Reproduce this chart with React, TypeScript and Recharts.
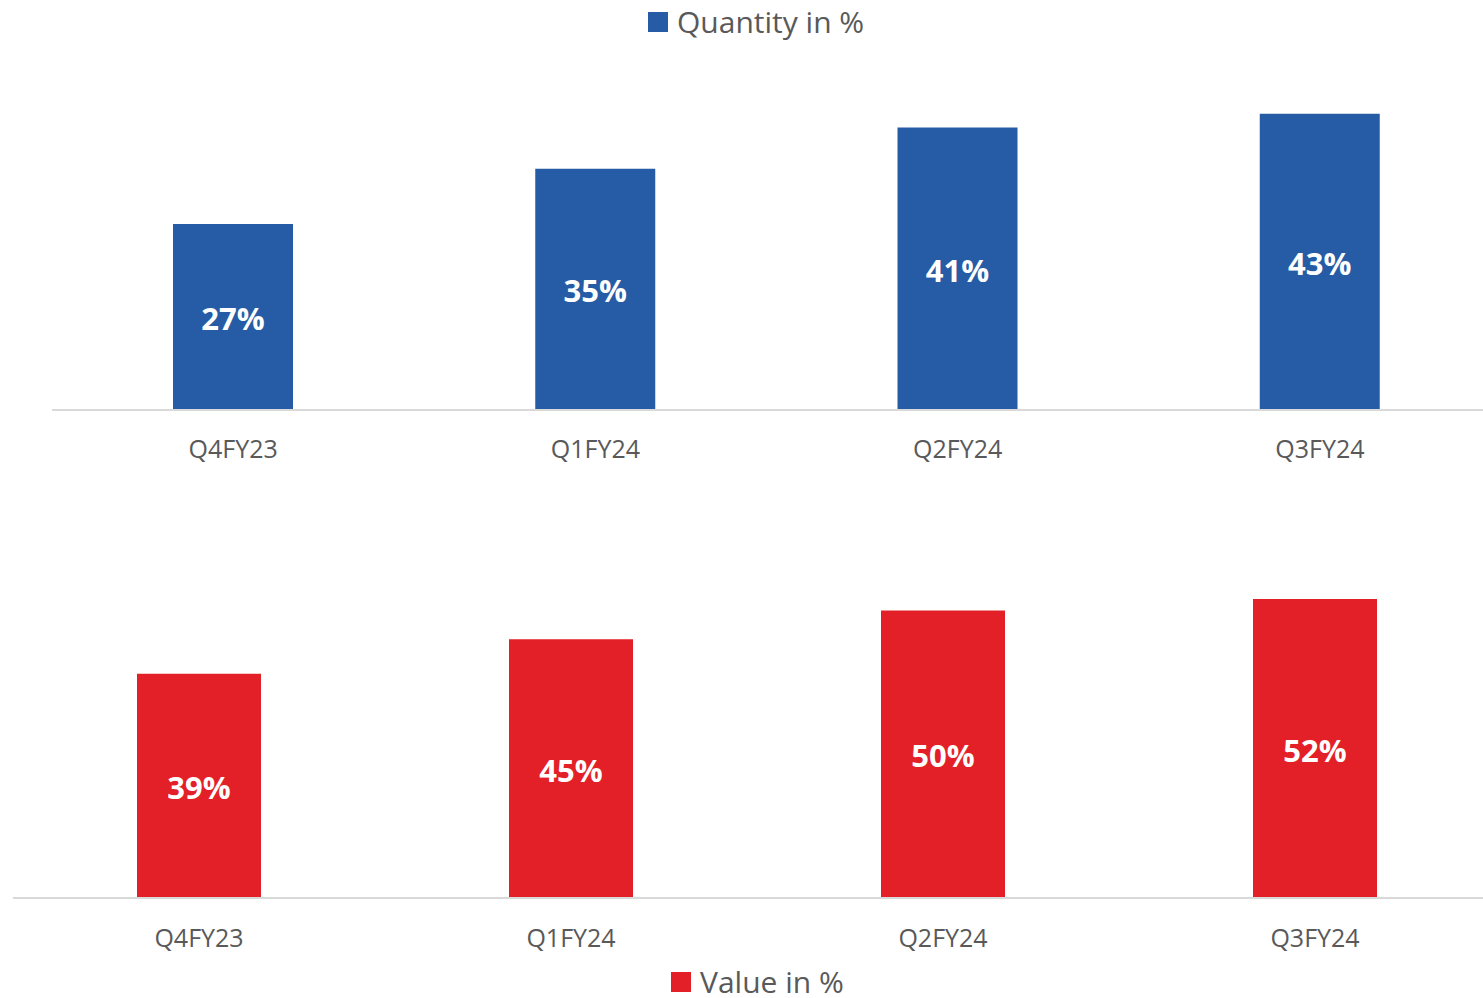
import React from "react";
import { BarChart, Bar, XAxis, YAxis, LabelList } from "recharts";

const quarters = ["Q4FY23", "Q1FY24", "Q2FY24", "Q3FY24"];
const quantityPct = [27, 35, 41, 43];
const valuePct = [39, 45, 50, 52];

const BLUE = "#255CA5";
const RED = "#E32028";
const GREY = "#595959";
const FONT = "'Open Sans', 'Noto Sans', sans-serif";

const quantityData = quarters.map((q, i) => ({ quarter: q, value: quantityPct[i] }));
const valueData = quarters.map((q, i) => ({ quarter: q, value: valuePct[i] }));

const pct = (v: any) => `${v}%`;

function LegendItem({ color, label, left, top }: { color: string; label: string; left: number; top: number }) {
  return (
    <div
      style={{
        position: "absolute",
        left,
        top,
        display: "flex",
        alignItems: "center",
        fontFamily: FONT,
        fontSize: 30,
        color: GREY,
        lineHeight: "30px",
        whiteSpace: "nowrap",
      }}
    >
      <span style={{ display: "inline-block", width: 20, height: 20, background: color, marginRight: 9 }} />
      {label}
    </div>
  );
}

export default function App() {
  return (
    <div
      style={{
        position: "absolute",
        left: 0,
        top: 0,
        width: 1483,
        height: 998,
        overflow: "hidden",
        background: "#fff",
      }}
    >
      {/* Quantity chart */}
      <LegendItem color={BLUE} label="Quantity in %" left={648} top={7} />
      <div style={{ position: "absolute", left: 0, top: 0 }}>
        <BarChart
          width={1510}
          height={480}
          data={quantityData}
          margin={{ top: 65.5, right: 9, bottom: 0, left: 52 }}
        >
          <XAxis
            dataKey="quarter"
            height={70}
            tickLine={false}
            tickMargin={24}
            axisLine={{ stroke: "#D9D9D9", strokeWidth: 2 }}
            tick={{ fill: GREY, fontSize: 25, fontFamily: FONT }}
          />
          <YAxis hide domain={[0, 50]} />
          <Bar dataKey="value" fill={BLUE} barSize={120} isAnimationActive={false}>
            <LabelList
              dataKey="value"
              position="center"
              formatter={pct}
              fill="#fff"
              fontSize={31}
              fontWeight="bold"
              fontFamily={FONT}
              dy={2}
            />
          </Bar>
        </BarChart>
      </div>

      {/* Value chart */}
      <div style={{ position: "absolute", left: 0, top: 480 }}>
        <BarChart
          width={1510}
          height={480}
          data={valueData}
          margin={{ top: 73, right: 9, bottom: 0, left: 13 }}
        >
          <XAxis
            dataKey="quarter"
            height={62}
            tickLine={false}
            tickMargin={25}
            axisLine={{ stroke: "#D9D9D9", strokeWidth: 2 }}
            tick={{ fill: GREY, fontSize: 25, fontFamily: FONT }}
          />
          <YAxis hide domain={[0, 60]} />
          <Bar dataKey="value" fill={RED} barSize={124} isAnimationActive={false}>
            <LabelList
              dataKey="value"
              position="center"
              formatter={pct}
              fill="#fff"
              fontSize={31}
              fontWeight="bold"
              fontFamily={FONT}
              dy={2}
            />
          </Bar>
        </BarChart>
      </div>
      <LegendItem color={RED} label="Value in %" left={671} top={967} />
    </div>
  );
}
